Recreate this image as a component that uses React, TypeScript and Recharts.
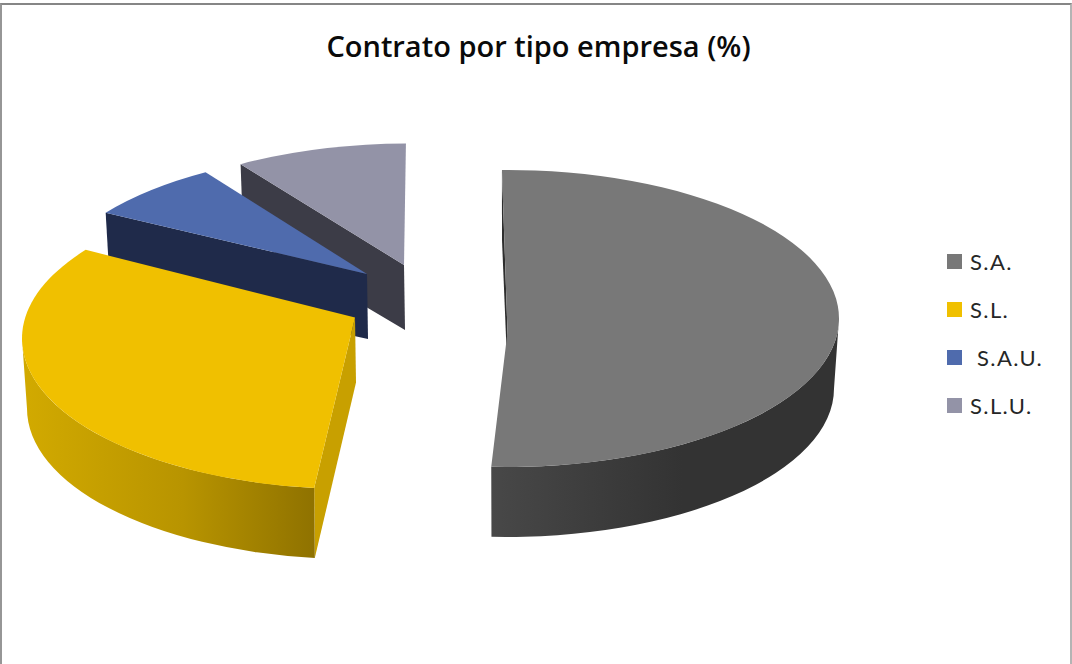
import { PieChart, Pie, Legend } from 'recharts'

const names = ['S.A.', 'S.L.', 'S.A.U.', 'S.L.U.']
const shares = [50.9, 34.3, 6.5, 8.3]
const colors = ['#787878', '#f0c000', '#4f6bad', '#9393a7']
const legendLabels = ['S.A.', 'S.L.', '\u00a0S.A.U.', 'S.L.U.']

// how each slice is pulled out of the pie and how its side walls look
const slicePulls = [
  { dx: 0, dy: 0, tipX: 1.5, tipY: 13.5, nudge: 0, squash: 1 },
  { dx: -151, dy: 20, tipX: 0, tipY: -21, nudge: 4.5, squash: 1.015 },
  { dx: -131, dy: -18.5, tipX: -8, tipY: -26, nudge: 0, squash: 1 },
  { dx: -96, dy: -26.5, tipX: -6, tipY: -27, nudge: 0, squash: 1 },
]
const cutColors = ['#2e2e2e', '#c8a000', '#1f2a4a', '#3c3c47']
const rimStops = [
  ['#484848', '#333333', '#333333'],
  ['#8f7200', '#b89400', '#d2aa00'],
  ['#1f2a4a', '#1f2a4a', '#1f2a4a'],
  ['#3c3c47', '#3c3c47', '#3c3c47'],
]

const TILT = 0.446
const DEPTH = 70
const LOW = 0.985

// drawn back to front, so the last slices of the clock come first
const order = [3, 2, 1, 0]
const pieData = order.map((i) => ({ name: names[i], value: shares[i], slice: i }))

function Slice3D(props: any) {
  const { cx, cy, outerRadius, startAngle, endAngle, payload } = props
  const i = payload.slice
  const pull = slicePulls[i]
  const rx = outerRadius
  const ry = outerRadius * TILT * pull.squash
  const px = cx + pull.dx
  const py = cy + pull.dy
  const a1 = 90 - Math.max(startAngle, endAngle) + pull.nudge
  const a2 = 90 - Math.min(startAngle, endAngle)

  const top = (a: number) => {
    const r = (a * Math.PI) / 180
    return [px + rx * Math.sin(r), py - ry * Math.cos(r)]
  }
  const low = (a: number) => {
    const r = (a * Math.PI) / 180
    return [px + rx * LOW * Math.sin(r), py - ry * Math.cos(r) + DEPTH]
  }
  const tip = [px + pull.tipX, py + pull.tipY]
  const tipLow = [tip[0] + 1, tip[1] + DEPTH - 5]

  const c1 = top(a1)
  const c2 = top(a2)
  const c1Low = low(a1)
  const large = a2 - a1 > 180 ? 1 : 0
  const face = `M${tip} L${c1} A${rx} ${ry} 0 ${large} 1 ${c2} Z`
  const cut = `M${c1} L${tip} L${tipLow} L${c1Low} Z`

  const from = Math.max(a1, 90)
  const to = Math.min(a2, 270)
  let rim = ''
  if (to > from) {
    const lr = rx * LOW
    rim = `M${top(from)} A${rx} ${ry} 0 0 1 ${top(to)} L${low(to)} A${lr} ${ry} 0 0 0 ${low(from)} Z`
  }

  return (
    <g>
      <defs>
        <linearGradient id={`rim-${i}`} x1="0" y1="0" x2="1" y2="0">
          <stop offset="0%" stopColor={rimStops[i][i === 1 ? 2 : 0]} />
          <stop offset="55%" stopColor={rimStops[i][1]} />
          <stop offset="100%" stopColor={rimStops[i][i === 1 ? 0 : 2]} />
        </linearGradient>
      </defs>
      <path d={cut} fill={cutColors[i]} />
      {rim && <path d={rim} fill={`url(#rim-${i})`} />}
      <path d={face} fill={colors[i]} />
    </g>
  )
}

function LegendList() {
  return (
    <div>
      {names.map((n, i) => (
        <div key={n} style={{ display: 'flex', alignItems: 'center', height: 48 }}>
          <span style={{ width: 15, height: 15, background: colors[i], marginRight: 8 }} />
          <span style={{ fontFamily: 'Lato, sans-serif', fontSize: 22, color: '#262626', letterSpacing: 1.4 }}>
            {legendLabels[i]}
          </span>
        </div>
      ))}
    </div>
  )
}

export default function App() {
  return (
    <div style={{ position: 'absolute', left: 0, top: 0, width: 1072, height: 664, background: '#fff' }}>
      <div
        style={{
          position: 'absolute',
          left: 0,
          top: 3,
          width: 1068,
          height: 661,
          borderTop: '2px solid #868686',
          borderLeft: '2px solid #969696',
          borderRight: '2px solid #b4b4b4',
        }}
      />
      <PieChart
        width={1072}
        height={664}
        margin={{ top: 0, right: 0, bottom: 0, left: 0 }}
        style={{ position: 'absolute', left: 0, top: 0 }}
      >
        <text
          x={538.5}
          y={57}
          textAnchor="middle"
          style={{ fontFamily: '"Open Sans", sans-serif', fontWeight: 600, fontSize: 29, fill: '#0a0a0a' }}
        >
          Contrato por tipo empresa (%)
        </text>
        <Pie
          data={pieData}
          dataKey="value"
          nameKey="name"
          cx={506}
          cy={318.5}
          outerRadius={333}
          startAngle={-269.3}
          endAngle={90.7}
          stroke="none"
          isAnimationActive={false}
          shape={Slice3D}
        />
        <Legend
          content={<LegendList />}
          wrapperStyle={{ position: 'absolute', left: 947, top: 237, width: 120, height: 192 }}
        />
      </PieChart>
    </div>
  )
}
